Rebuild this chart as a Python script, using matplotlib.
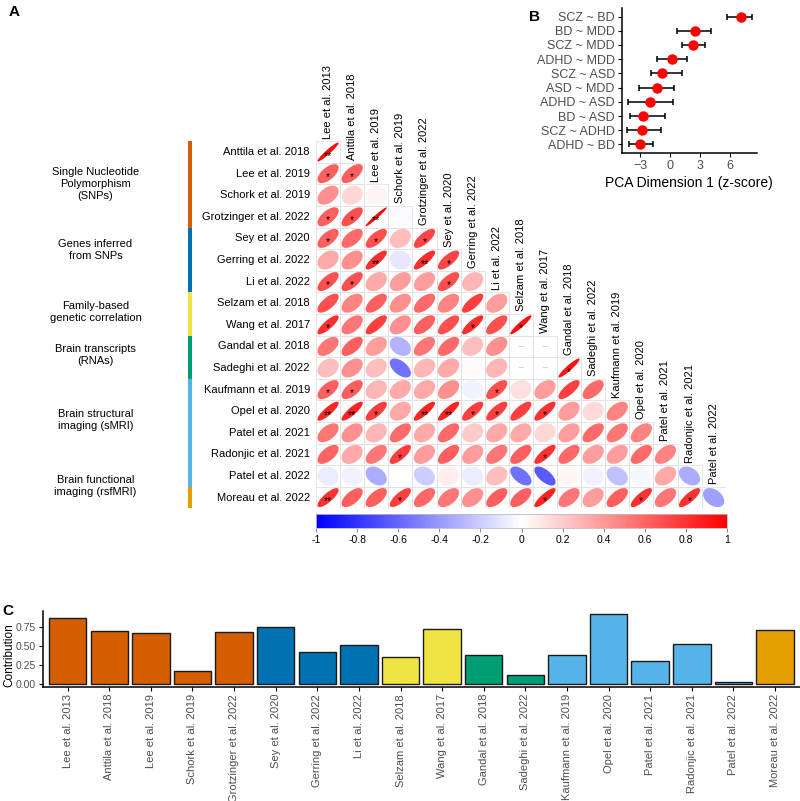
import numpy as np
import matplotlib
matplotlib.use("Agg")
import matplotlib.pyplot as plt
from matplotlib.colors import LinearSegmentedColormap, Normalize
from matplotlib.patches import Polygon, Rectangle
from matplotlib.cm import ScalarMappable

plt.rcParams["font.family"] = ["Liberation Sans", "DejaVu Sans"]

W, H = 800, 801
nan = np.nan

STUDIES = [
    "Lee et al. 2013", "Anttila et al. 2018", "Lee et al. 2019", "Schork et al. 2019",
    "Grotzinger et al. 2022", "Sey et al. 2020", "Gerring et al. 2022", "Li et al. 2022",
    "Selzam et al. 2018", "Wang et al. 2017", "Gandal et al. 2018", "Sadeghi et al. 2022",
    "Kaufmann et al. 2019", "Opel et al. 2020", "Patel et al. 2021", "Radonjic et al. 2021",
    "Patel et al. 2022", "Moreau et al. 2022",
]

GROUP_NAMES = [
    "Single Nucleotide\nPolymorphism\n(SNPs)", "Genes inferred\nfrom SNPs",
    "Family-based\ngenetic correlation", "Brain transcripts\n(RNAs)",
    "Brain structural\nimaging (sMRI)", "Brain functional\nimaging (rsfMRI)",
]
GROUP_SIZES = [5, 3, 2, 2, 5, 1]
GROUP_COLORS = ["#D55E00", "#0072B2", "#F0E442", "#009E73", "#56B4E9", "#E69F00"]
# where the group text sits relative to the group centre (in rows)
GROUP_TEXT_SHIFT = [0.0, -0.45, -0.1, -0.1, -0.6, -0.55]

# lower triangle, row i = STUDIES[i] (i = 1..17), columns 0..i-1
CORR = [
    [0.95],
    [0.62, 0.62],
    [0.43, 0.16, 0.04],
    [0.62, 0.68, 0.97, -0.03],
    [0.62, 0.58, 0.68, 0.25, 0.72],
    [0.33, 0.43, 0.82, -0.10, 0.82, 0.72],
    [0.68, 0.68, 0.33, 0.38, 0.38, 0.68, 0.28],
    [0.68, 0.48, 0.62, 0.43, 0.58, 0.48, 0.75, 0.38],
    [0.82, 0.53, 0.75, 0.43, 0.62, 0.68, 0.82, 0.68, 0.93],
    [0.53, 0.62, 0.38, -0.30, 0.53, 0.58, 0.25, 0.43, nan, nan],
    [0.25, 0.43, 0.25, -0.55, 0.28, 0.33, 0.02, 0.28, nan, nan, 0.93],
    [0.62, 0.62, 0.28, 0.33, 0.33, 0.43, -0.05, 0.68, 0.12, 0.38, 0.75, 0.58],
    [0.85, 0.85, 0.75, 0.33, 0.85, 0.85, 0.75, 0.75, 0.75, 0.80, 0.38, 0.15, 0.48],
    [0.53, 0.43, 0.28, 0.58, 0.33, 0.58, 0.20, 0.33, 0.33, 0.16, 0.38, 0.58, 0.53, 0.48],
    [0.60, 0.33, 0.53, 0.75, 0.38, 0.62, 0.38, 0.53, 0.62, 0.80, 0.58, 0.38, 0.38, 0.58, 0.48],
    [-0.08, -0.06, -0.33, 0.00, -0.20, 0.06, -0.08, 0.25, -0.55, -0.65, 0.03, -0.06, -0.25, -0.04, 0.33, -0.33],
    [0.80, 0.62, 0.62, 0.75, 0.58, 0.53, 0.43, 0.62, 0.62, 0.85, 0.53, 0.38, 0.62, 0.80, 0.53, 0.80, -0.38],
]
SIG = [
    [2],
    [1, 1],
    [0, 0, 0],
    [1, 1, 2, 0],
    [1, 0, 1, 0, 1],
    [0, 0, 2, 0, 2, 1],
    [1, 1, 0, 0, 0, 1, 0],
    [0, 0, 0, 0, 0, 0, 0, 0],
    [1, 0, 0, 0, 0, 0, 1, 0, 1],
    [0, 0, 0, 0, 0, 0, 0, 0, 0, 0],
    [0, 0, 0, 0, 0, 0, 0, 0, 0, 0, 1],
    [1, 1, 0, 0, 0, 0, 0, 1, 0, 0, 0, 0],
    [2, 2, 1, 0, 2, 2, 1, 1, 0, 1, 0, 0, 0],
    [0, 0, 0, 0, 0, 0, 0, 0, 0, 0, 0, 0, 0, 0],
    [0, 0, 0, 1, 0, 0, 0, 0, 0, 1, 0, 0, 0, 0, 0],
    [0, 0, 0, 0, 0, 0, 0, 0, 0, 0, 0, 0, 0, 0, 0, 0],
    [2, 0, 0, 1, 0, 0, 0, 0, 0, 1, 0, 0, 0, 1, 0, 1, 0],
]

# panel B
PAIRS = ["SCZ ~ BD", "BD ~ MDD", "SCZ ~ MDD", "ADHD ~ MDD", "SCZ ~ ASD",
         "ASD ~ MDD", "ADHD ~ ASD", "BD ~ ASD", "SCZ ~ ADHD", "ADHD ~ BD"]
PCA_MEAN = [7.1, 2.5, 2.33, 0.23, -0.77, -1.27, -2.0, -2.67, -2.77, -2.97]
PCA_LOW = [5.67, 0.67, 1.17, -1.27, -1.93, -3.1, -4.17, -4.0, -4.33, -4.07]
PCA_HIGH = [8.17, 4.1, 3.5, 1.67, 1.17, 0.4, 0.33, -0.5, -0.93, -1.73]

# panel C
CONTRIB = [0.87, 0.69, 0.66, 0.17, 0.675, 0.745, 0.42, 0.51, 0.35,
           0.72, 0.38, 0.115, 0.37, 0.91, 0.30, 0.52, 0.02, 0.71]

GREY = "#4D4D4D"


def fig_rect(x0, y0, x1, y1):
    # pixel box (top-left origin) -> figure fraction
    return [x0 / W, 1 - y1 / H, (x1 - x0) / W, (y1 - y0) / H]


fig = plt.figure(figsize=(W / 100, H / 100), dpi=100)

# ---------------- panel A ----------------
cmap = LinearSegmentedColormap.from_list("bwr_corr", ["#0000FF", "#FFFFFF", "#FF0000"], N=200)
norm = Normalize(-1, 1)

ax = fig.add_axes(fig_rect(316, 141.2, 725.7, 508.4))
ax.set_xlim(-0.5, 16.5)
ax.set_ylim(17.5, 0.5)
ax.axis("off")

t = np.linspace(0, 2 * np.pi, 99)
for i, (row, sig) in enumerate(zip(CORR, SIG), start=1):
    ax.text(-0.75, i, STUDIES[i], ha="right", va="center", fontsize=8, clip_on=False)
    for j, (r, s) in enumerate(zip(row, sig)):
        ax.add_patch(Rectangle((j - 0.5, i - 0.5), 1, 1, fill=False,
                               edgecolor="#E2E2E2", linewidth=0.6))
        if np.isnan(r):
            ax.text(j, i, "–", ha="center", va="center", fontsize=6, color="#AAAAAA")
            continue
        d = np.arccos(r)
        ex = np.cos(t + d / 2) / 2 * 0.88
        ey = -np.cos(t - d / 2) / 2 * 0.88
        ax.add_patch(Polygon(np.column_stack([j + ex, i + ey]), closed=True,
                             facecolor=cmap(norm(r)), edgecolor="none"))
        if s:
            ax.text(j, i + 0.17, "*" * s, ha="center", va="center", fontsize=7.5)

for j in range(len(STUDIES) - 1):
    ax.text(j, j + 0.38, STUDIES[j], rotation=90, ha="center", va="bottom",
            fontsize=8, clip_on=False)

# study groups on the left
start = 0
for name, size, col, shift in zip(GROUP_NAMES, GROUP_SIZES, GROUP_COLORS, GROUP_TEXT_SHIFT):
    first = max(start, 1)
    last = start + size - 1
    ax.add_patch(Rectangle((-5.82, first - 0.5), 0.17, last - first + 1,
                           facecolor=col, edgecolor="none", clip_on=False))
    ax.text(-9.65, (first + last) / 2 + shift, name, ha="center", va="center",
            fontsize=8, linespacing=1.25, clip_on=False)
    start += size

cax = fig.add_axes(fig_rect(316, 514, 727, 528))
cb = fig.colorbar(ScalarMappable(norm=norm, cmap=cmap), cax=cax, orientation="horizontal",
                  ticks=np.round(np.arange(-1, 1.01, 0.2), 1))
cb.ax.set_xticklabels(["-1", "-0.8", "-0.6", "-0.4", "-0.2", "0", "0.2", "0.4", "0.6", "0.8", "1"])
cb.ax.tick_params(labelsize=7.5, length=3, width=0.6, color="#777777", pad=2)
cb.outline.set_edgecolor("#BBBBBB")
cb.outline.set_linewidth(0.6)

# ---------------- panel B ----------------
axb = fig.add_axes(fig_rect(621.7, 8, 757, 153))
yb = np.arange(len(PAIRS))
axb.errorbar(PCA_MEAN, yb,
             xerr=[np.subtract(PCA_MEAN, PCA_LOW), np.subtract(PCA_HIGH, PCA_MEAN)],
             fmt="none", ecolor="black", elinewidth=1.1, capsize=2.2, capthick=1.1)
axb.plot(PCA_MEAN, yb, "o", color="#FF0000", markersize=6.5, zorder=3)
axb.set_ylim(len(PAIRS) - 0.4, -0.6)
axb.set_xlim(-4.83, 8.67)
axb.set_yticks(yb)
axb.set_yticklabels(PAIRS)
axb.set_xticks([-3, 0, 3, 6])
axb.set_xticklabels(["−3", "0", "3", "6"])
axb.tick_params(labelsize=9, labelcolor=GREY, length=3, width=0.8, pad=2)
axb.set_xlabel("PCA Dimension 1 (z-score)", fontsize=10, labelpad=3)
for side in ["top", "right"]:
    axb.spines[side].set_visible(False)
for side in ["left", "bottom"]:
    axb.spines[side].set_linewidth(1.1)

# ---------------- panel C ----------------
axc = fig.add_axes(fig_rect(42.7, 611, 800, 687))
bar_cols = [c for c, n in zip(GROUP_COLORS, GROUP_SIZES) for _ in range(n)]
xc = np.arange(len(STUDIES))
axc.bar(xc, CONTRIB, width=0.9, color=bar_cols, edgecolor="#1A1A1A", linewidth=1.0)
axc.set_xlim(-0.6, len(STUDIES) - 0.4)
axc.set_ylim(-0.046, 0.956)
axc.set_yticks([0, 0.25, 0.5, 0.75])
axc.set_yticklabels(["0.00", "0.25", "0.50", "0.75"])
axc.set_xticks(xc)
axc.set_xticklabels(STUDIES, rotation=90)
axc.tick_params(axis="x", labelsize=8, labelcolor=GREY, length=3, width=0.8, pad=2)
axc.tick_params(axis="y", labelsize=7.5, labelcolor=GREY, length=3, width=0.8, pad=2)
axc.set_ylabel("Contribution", fontsize=8.5)
axc.yaxis.set_label_coords(-0.036, 0.42)
for side in ["top", "right"]:
    axc.spines[side].set_visible(False)
for side in ["left", "bottom"]:
    axc.spines[side].set_linewidth(1.1)

# panel letters
fig.text(14 / W, 1 - 12 / H, "A", fontsize=11, fontweight="bold", ha="center", va="center")
fig.text(534 / W, 1 - 17 / H, "B", fontsize=11, fontweight="bold", ha="center", va="center")
fig.text(8 / W, 1 - 611 / H, "C", fontsize=11, fontweight="bold", ha="center", va="center")

fig.savefig("out.png", dpi=100)
